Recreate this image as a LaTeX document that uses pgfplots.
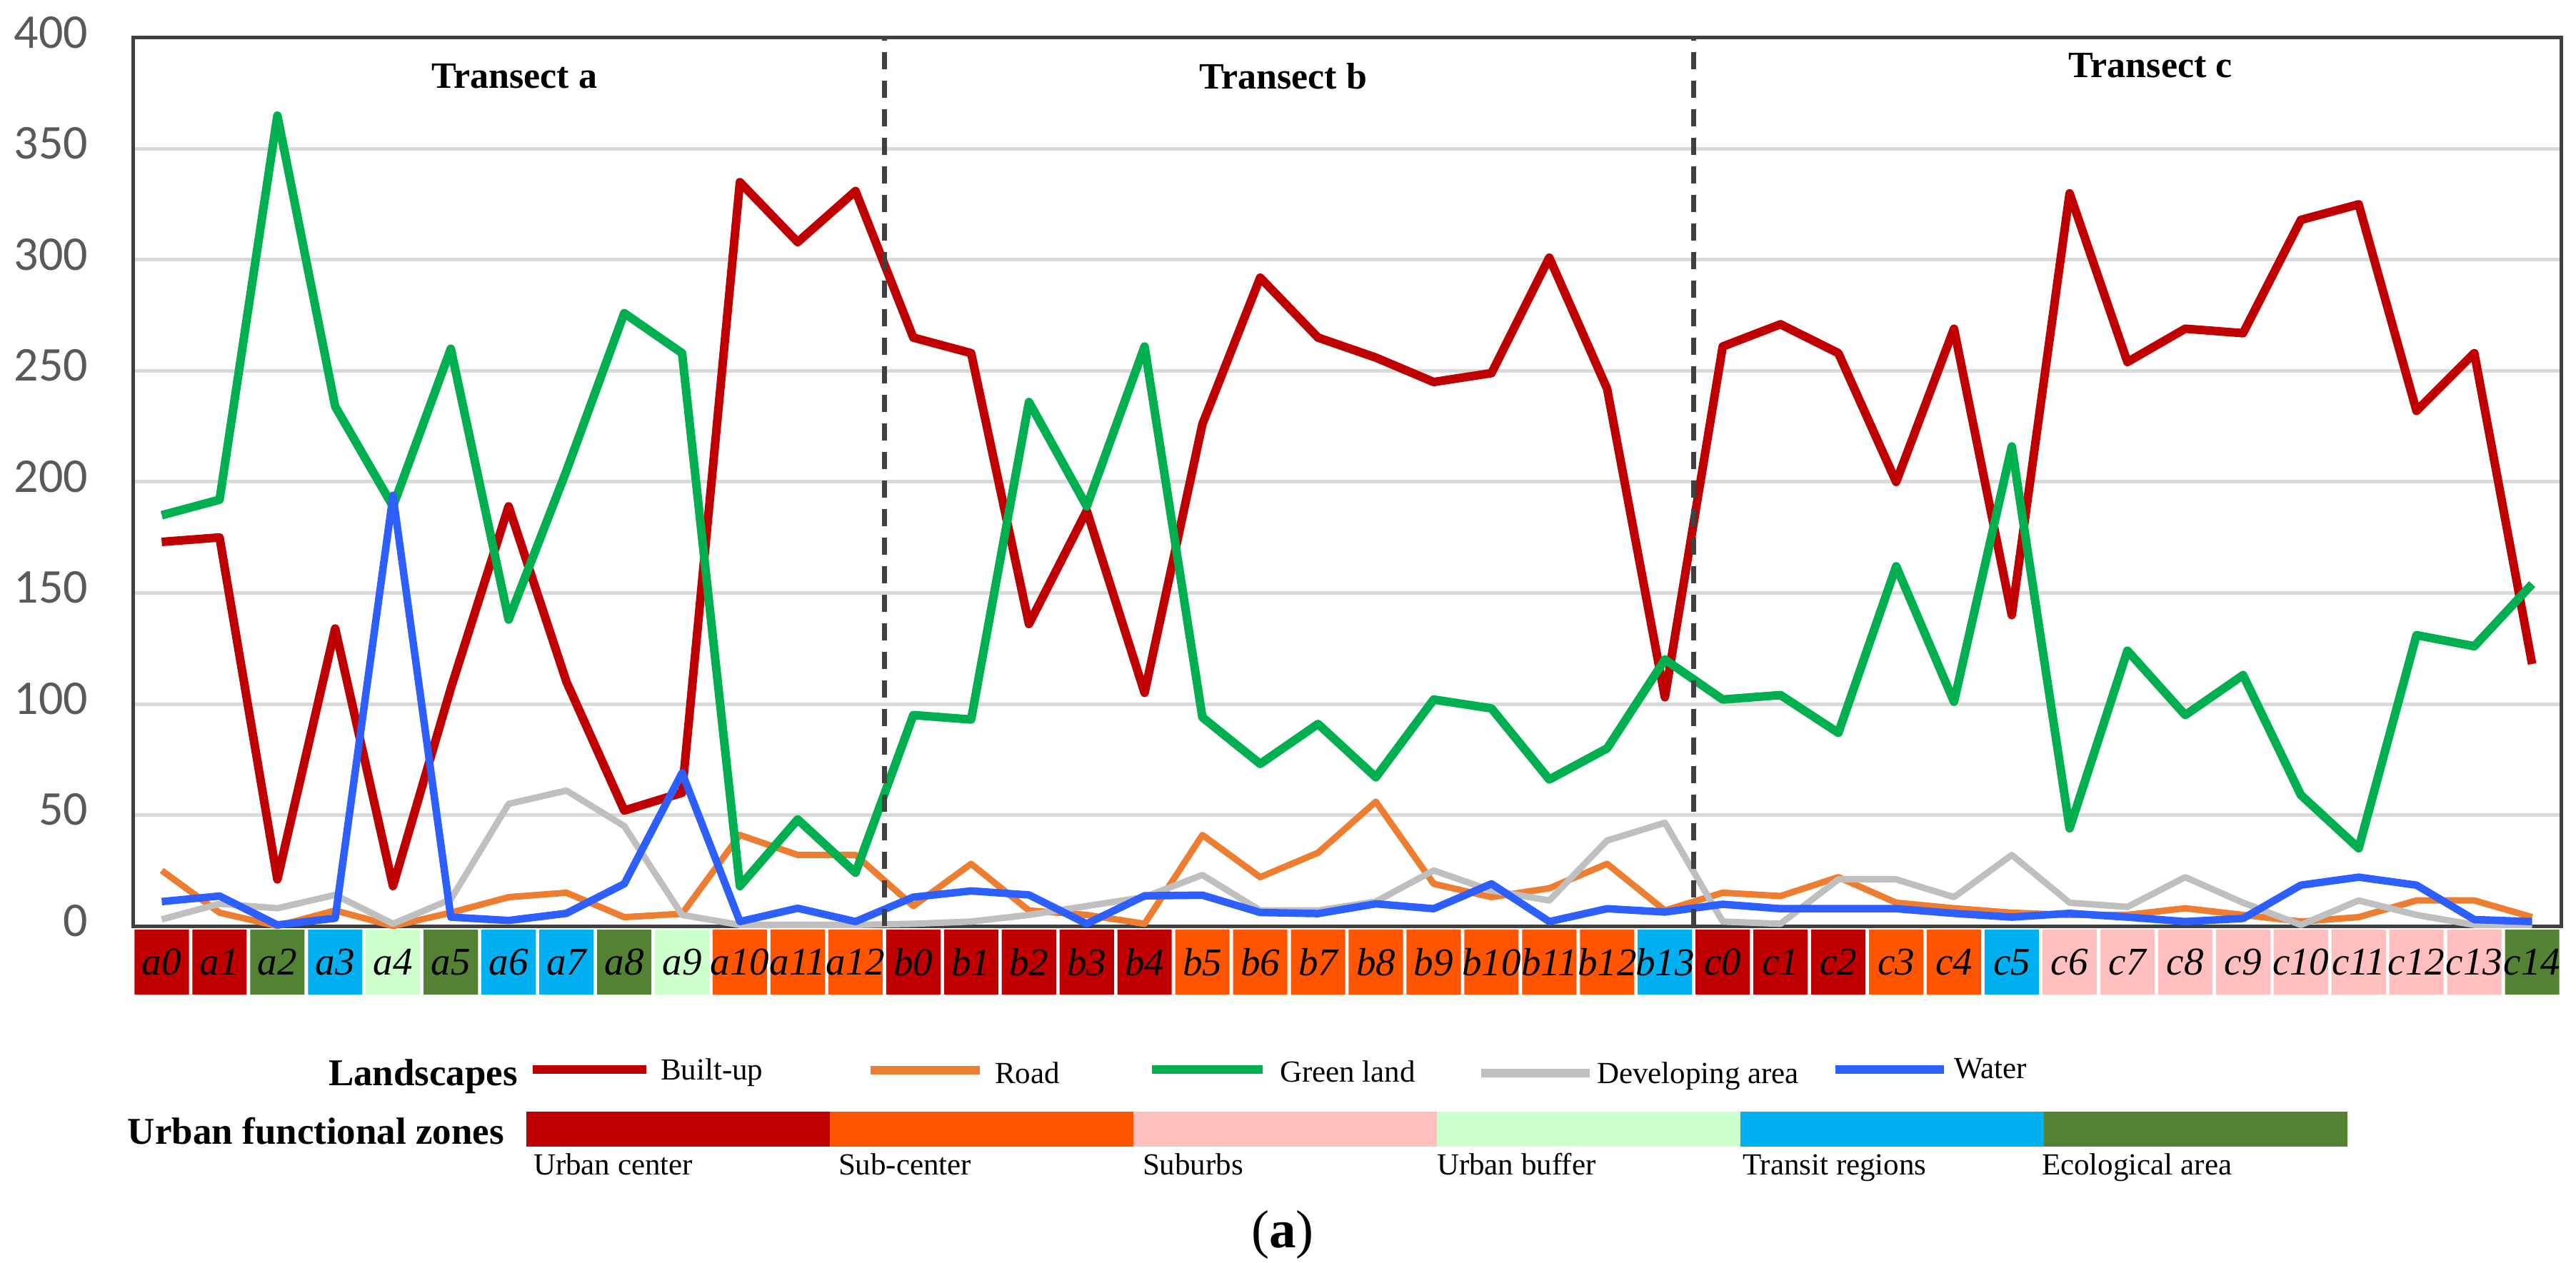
\documentclass[border=0pt]{standalone}
\usepackage{fontspec}
\setmainfont{Liberation Serif}
\newfontfamily\carlito{Carlito}
\usepackage{pgfplots}
\pgfplotsset{compat=1.18}
\usepackage{pgfplotstable}

\definecolor{cBuilt}{RGB}{192,0,0}
\definecolor{cRoad}{RGB}{237,125,49}
\definecolor{cGreen}{RGB}{0,176,80}
\definecolor{cDev}{RGB}{191,191,191}
\definecolor{cWater}{RGB}{45,95,255}
\definecolor{zUC}{RGB}{192,0,0}
\definecolor{zSub}{RGB}{255,85,0}
\definecolor{zSuburb}{RGB}{255,191,191}
\definecolor{zBuffer}{RGB}{204,255,204}
\definecolor{zTransit}{RGB}{0,176,240}
\definecolor{zEco}{RGB}{84,130,53}
\definecolor{axgray}{RGB}{64,64,64}
\definecolor{tickgray}{RGB}{89,89,89}
\definecolor{gridgray}{RGB}{217,217,217}

\pgfplotstableread{
x built road green dev water
0 173 25 185 3 11
1 175 6 192 10 13.5
2 21 0 365 8 0.5
3 134 7 234 14 3.5
4 18 0 189 1 194
5 107 6 260 12 4
6 189 13 138 55 2.5
7 110 15 205 61 5.7
8 52 4 276 45 19
9 60 5.5 258 5 69
10 335 41 18 0.5 2
11 308 32 48 0.5 8
12 331 32 24 0.5 2
13 265 9 95 1 13
14 258 28 93 2 15.8
15 136 7 236 5 14
16 187 5 189 9 1
17 105 1 261 13 13.6
18 226 41 94 23 13.9
19 292 22 73 7 6.1
20 265 33 91 7 5.6
21 256 56 67 11 10
22 245 19 102 25 7.8
23 249 13 98 16 19
24 301 17 66 11.5 2
25 242 28 80 38.5 7.8
26 103 7 120 46.5 6.3
27 261 15 102 2 9.8
28 271 13.5 104 1 7.8
29 258 22 87 21 7.8
30 200 10.5 162 21 7.8
31 269 8 101 13 5.7
32 140 6 216 32 4
33 330 5 44 10.5 5.7
34 254 5 124 8.6 4
35 269 8 95 22 2
36 267 5 113 10.5 3.4
37 318 2 59 0.5 18.4
38 325 4 35 11.5 22
39 232 11.5 131 5 18.4
40 258 11.5 126 0.5 2.9
41 118 4 154 0.5 2
}\landdata

\begin{document}
\begin{tikzpicture}
\path[use as bounding box] (0pt,0pt) rectangle (721.4pt,353.6pt);

% main chart
\begin{axis}[
  at={(37.2pt,94.2pt)}, anchor=south west,
  scale only axis, width=680pt, height=248.8pt,
  xmin=-0.5, xmax=41.5, ymin=0, ymax=400,
  xtick=\empty, ytick={0,50,...,400},
  ymajorgrids, major grid style={gridgray, line width=1pt},
  axis line style={axgray, line width=1pt},
  tick style={draw=none},
  /pgf/number format/assume math mode=true,
  yticklabel style={font=\carlito\fontsize{13.6}{14}\selectfont, text=tickgray, xshift=-9pt, yshift=1.5pt},
  clip=false,
]
\addplot[cBuilt, line width=2.4pt, line join=round] table[x=x,y=built] {\landdata};
\addplot[cRoad, line width=1.8pt, line join=round] table[x=x,y=road] {\landdata};
\addplot[cGreen, line width=2.4pt, line join=round] table[x=x,y=green] {\landdata};
\addplot[cDev, line width=1.8pt, line join=round] table[x=x,y=dev] {\landdata};
\addplot[cWater, line width=2.1pt, line join=round] table[x=x,y=water] {\landdata};
\addplot[axgray, line width=1.4pt, dash pattern=on 4.8pt off 3.2pt] coordinates {(12.5,0) (12.5,400)};
\addplot[axgray, line width=1.4pt, dash pattern=on 4.8pt off 3.2pt] coordinates {(26.5,0) (26.5,400)};
\node[font=\bfseries\fontsize{10.4}{12}\selectfont] at (axis cs:6.1,382.6) {Transect a};
\node[font=\bfseries\fontsize{10.4}{12}\selectfont] at (axis cs:19.4,382.6) {Transect b};
\node[font=\bfseries\fontsize{10.4}{12}\selectfont] at (axis cs:34.4,387.5) {Transect c};
\end{axis}

% functional zone strip
\begin{axis}[
  at={(37.2pt,75pt)}, anchor=south west,
  scale only axis, width=680pt, height=18.2pt,
  xmin=-0.5, xmax=41.5, ymin=0, ymax=1,
  axis on top,
  axis line style={draw=none}, tick style={draw=none},
  ytick=\empty, xtick={0,...,41},
  xticklabels={a0,a1,a2,a3,a4,a5,a6,a7,a8,a9,a10,a11,a12,b0,b1,b2,b3,b4,b5,b6,b7,b8,b9,b10,b11,b12,b13,c0,c1,c2,c3,c4,c5,c6,c7,c8,c9,c10,c11,c12,c13,c14},
  xticklabel style={font=\itshape\fontsize{11}{11}\selectfont, anchor=center, yshift=9.1pt, inner sep=0pt},
]
\addplot[ybar, bar shift=0pt, bar width=0.94, fill=zUC, draw=none] coordinates {(0,1)(1,1)(13,1)(14,1)(15,1)(16,1)(17,1)(27,1)(28,1)(29,1)};
\addplot[ybar, bar shift=0pt, bar width=0.94, fill=zSub, draw=none] coordinates {(10,1)(11,1)(12,1)(18,1)(19,1)(20,1)(21,1)(22,1)(23,1)(24,1)(25,1)(30,1)(31,1)};
\addplot[ybar, bar shift=0pt, bar width=0.94, fill=zSuburb, draw=none] coordinates {(33,1)(34,1)(35,1)(36,1)(37,1)(38,1)(39,1)(40,1)};
\addplot[ybar, bar shift=0pt, bar width=0.94, fill=zBuffer, draw=none] coordinates {(4,1)(9,1)};
\addplot[ybar, bar shift=0pt, bar width=0.94, fill=zTransit, draw=none] coordinates {(3,1)(6,1)(7,1)(26,1)(32,1)};
\addplot[ybar, bar shift=0pt, bar width=0.94, fill=zEco, draw=none] coordinates {(2,1)(5,1)(8,1)(41,1)};
\end{axis}

% legends
\begin{scope}[x=0.2pt, y=0.2pt]
\node[anchor=base west, inner sep=0pt, font=\bfseries\fontsize{10.6}{12}\selectfont] at (459,248) {Landscapes};
\draw[cBuilt, line width=2.4pt] (746,270) -- (905,270);
\node[anchor=base west, inner sep=0pt, font=\fontsize{8.6}{10}\selectfont] at (924,256) {Built-up};
\draw[cRoad, line width=2.4pt] (1219,269) -- (1372,269);
\node[anchor=base west, inner sep=0pt, font=\fontsize{8.6}{10}\selectfont] at (1392,251) {Road};
\draw[cGreen, line width=2.4pt] (1613,270) -- (1768,270);
\node[anchor=base west, inner sep=0pt, font=\fontsize{8.6}{10}\selectfont] at (1791,253) {Green land};
\draw[cDev, line width=2.4pt] (2074,265) -- (2226,265);
\node[anchor=base west, inner sep=0pt, font=\fontsize{8.6}{10}\selectfont] at (2235,251) {Developing area};
\draw[cWater, line width=2.4pt] (2570,270) -- (2722,270);
\node[anchor=base west, inner sep=0pt, font=\fontsize{8.6}{10}\selectfont] at (2735,258) {Water};

\node[anchor=base west, inner sep=0pt, font=\bfseries\fontsize{10.6}{12}\selectfont] at (178,166) {Urban functional zones};
\fill[zUC] (737,162) rectangle (1162,211);
\fill[zSub] (1162,162) rectangle (1587,211);
\fill[zSuburb] (1587,162) rectangle (2012,211);
\fill[zBuffer] (2012,162) rectangle (2437,211);
\fill[zTransit] (2437,162) rectangle (2862,211);
\fill[zEco] (2862,162) rectangle (3287,211);
\node[anchor=base west, inner sep=0pt, font=\fontsize{8.6}{10}\selectfont] at (746,123) {Urban center};
\node[anchor=base west, inner sep=0pt, font=\fontsize{8.6}{10}\selectfont] at (1173,123) {Sub-center};
\node[anchor=base west, inner sep=0pt, font=\fontsize{8.6}{10}\selectfont] at (1599,123) {Suburbs};
\node[anchor=base west, inner sep=0pt, font=\fontsize{8.6}{10}\selectfont] at (2011,123) {Urban buffer};
\node[anchor=base west, inner sep=0pt, font=\fontsize{8.6}{10}\selectfont] at (2439,123) {Transit regions};
\node[anchor=base west, inner sep=0pt, font=\fontsize{8.6}{10}\selectfont] at (2858,123) {Ecological area};

\node[anchor=base, inner sep=0pt, font=\fontsize{15}{16}\selectfont] at (1796,21) {(\textbf{a})};
\end{scope}
\end{tikzpicture}
\end{document}
